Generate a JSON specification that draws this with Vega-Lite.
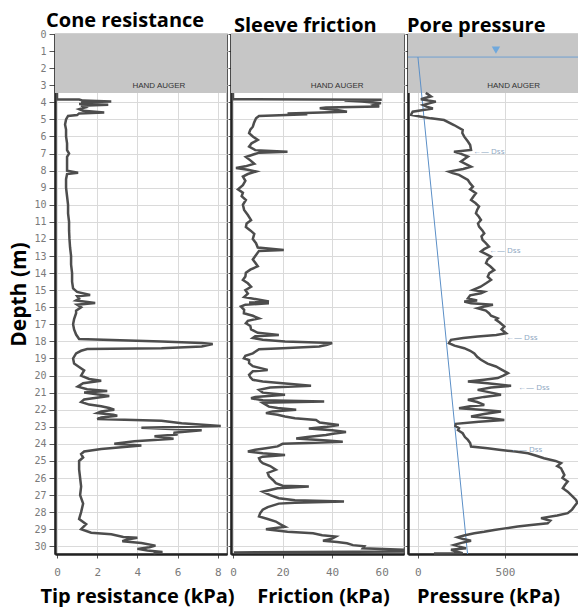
{
  "$schema": "https://vega.github.io/schema/vega-lite/v6.json",
  "padding": {"left": 8, "top": 10, "right": 0, "bottom": 0},
  "bounds": "flush",
  "background": "white",
  "datasets": {
    "auger": [{"top": 0, "bottom": 3.45, "label": "HAND AUGER"}],
    "wt": [{"depth": 1.35, "u": 448}],
    "hydro": [{"d": 1.35, "u0": 0}, {"d": 30.45, "u0": 285}],
    "dss": [
      {"d": 6.9, "u": 316, "label": "←— Dss"},
      {"d": 12.7, "u": 408, "label": "←— Dss"},
      {"d": 17.78, "u": 506, "label": "←— Dss"},
      {"d": 20.73, "u": 575, "label": "←— Dss"},
      {"d": 24.36, "u": 534, "label": "←— Dss"}
    ],
    "qc": [
      {"d": 3.45, "v": 0}, {"d": 3.83, "v": 0}, {"d": 3.84, "v": 1.1}, {"d": 3.9, "v": 1.3}, {"d": 3.95, "v": 2.7}, {"d": 4.0, "v": 1.2}, {"d": 4.05, "v": 1.5}, {"d": 4.1, "v": 1.1}, {"d": 4.15, "v": 2.55}, {"d": 4.2, "v": 1.2}, {"d": 4.3, "v": 1.4}, {"d": 4.4, "v": 1.1}, {"d": 4.5, "v": 1.3}, {"d": 4.6, "v": 2.35}, {"d": 4.65, "v": 1.1}, {"d": 4.75, "v": 1.0}, {"d": 4.8, "v": 0.55}, {"d": 5.0, "v": 0.45}, {"d": 5.3, "v": 0.4}, {"d": 5.6, "v": 0.45}, {"d": 6.0, "v": 0.45}, {"d": 6.4, "v": 0.5}, {"d": 6.8, "v": 0.5}, {"d": 7.0, "v": 0.6}, {"d": 7.2, "v": 0.5}, {"d": 7.6, "v": 0.5}, {"d": 8.0, "v": 0.5}, {"d": 8.12, "v": 1.05}, {"d": 8.2, "v": 0.5}, {"d": 8.5, "v": 0.45}, {"d": 9.0, "v": 0.45}, {"d": 9.5, "v": 0.5}, {"d": 10.0, "v": 0.55}, {"d": 10.5, "v": 0.55}, {"d": 11.0, "v": 0.6}, {"d": 11.5, "v": 0.6}, {"d": 12.0, "v": 0.62}, {"d": 12.5, "v": 0.65}, {"d": 13.0, "v": 0.7}, {"d": 13.5, "v": 0.7}, {"d": 14.0, "v": 0.75}, {"d": 14.5, "v": 0.75}, {"d": 14.9, "v": 0.8}, {"d": 15.1, "v": 1.0}, {"d": 15.28, "v": 1.65}, {"d": 15.35, "v": 1.0}, {"d": 15.5, "v": 1.1}, {"d": 15.6, "v": 0.95}, {"d": 15.75, "v": 1.9}, {"d": 15.85, "v": 1.0}, {"d": 16.0, "v": 1.2}, {"d": 16.2, "v": 0.95}, {"d": 16.35, "v": 0.95}, {"d": 16.7, "v": 0.85}, {"d": 17.0, "v": 0.8}, {"d": 17.3, "v": 0.85}, {"d": 17.6, "v": 0.95}, {"d": 17.86, "v": 1.1}, {"d": 18.0, "v": 5.2}, {"d": 18.1, "v": 7.2}, {"d": 18.15, "v": 7.75}, {"d": 18.3, "v": 7.2}, {"d": 18.4, "v": 5.2}, {"d": 18.45, "v": 1.5}, {"d": 18.55, "v": 1.2}, {"d": 18.7, "v": 0.95}, {"d": 19.0, "v": 0.8}, {"d": 19.3, "v": 0.85}, {"d": 19.5, "v": 1.1}, {"d": 19.7, "v": 1.35}, {"d": 20.0, "v": 1.2}, {"d": 20.2, "v": 1.6}, {"d": 20.3, "v": 2.2}, {"d": 20.45, "v": 1.3}, {"d": 20.65, "v": 1.03}, {"d": 20.8, "v": 1.5}, {"d": 20.9, "v": 2.5}, {"d": 21.0, "v": 1.35}, {"d": 21.2, "v": 2.6}, {"d": 21.4, "v": 1.35}, {"d": 21.55, "v": 1.2}, {"d": 21.7, "v": 1.6}, {"d": 21.8, "v": 2.2}, {"d": 21.9, "v": 2.6}, {"d": 22.0, "v": 2.85}, {"d": 22.1, "v": 2.2}, {"d": 22.2, "v": 2.0}, {"d": 22.3, "v": 2.8}, {"d": 22.35, "v": 3.0}, {"d": 22.45, "v": 2.2}, {"d": 22.55, "v": 2.0}, {"d": 22.65, "v": 5.2}, {"d": 22.8, "v": 6.2}, {"d": 22.95, "v": 8.15}, {"d": 23.05, "v": 4.2}, {"d": 23.2, "v": 7.2}, {"d": 23.35, "v": 5.8}, {"d": 23.45, "v": 6.0}, {"d": 23.55, "v": 4.85}, {"d": 23.7, "v": 5.8}, {"d": 23.85, "v": 3.85}, {"d": 24.0, "v": 2.85}, {"d": 24.1, "v": 4.2}, {"d": 24.3, "v": 2.2}, {"d": 24.45, "v": 1.35}, {"d": 24.6, "v": 1.2}, {"d": 24.8, "v": 1.3}, {"d": 25.0, "v": 1.1}, {"d": 25.5, "v": 1.1}, {"d": 26.0, "v": 1.15}, {"d": 26.5, "v": 1.2}, {"d": 27.0, "v": 1.15}, {"d": 27.5, "v": 1.3}, {"d": 28.0, "v": 1.2}, {"d": 28.4, "v": 1.1}, {"d": 28.7, "v": 1.45}, {"d": 29.0, "v": 1.2}, {"d": 29.2, "v": 1.7}, {"d": 29.3, "v": 2.7}, {"d": 29.45, "v": 3.3}, {"d": 29.5, "v": 4.0}, {"d": 29.6, "v": 3.5}, {"d": 29.7, "v": 3.25}, {"d": 29.8, "v": 4.2}, {"d": 29.96, "v": 4.9}, {"d": 30.05, "v": 4.6}, {"d": 30.15, "v": 4.0}, {"d": 30.25, "v": 4.5}, {"d": 30.33, "v": 5.25}, {"d": 30.4, "v": 4.8}
    ],
    "fs": [
      {"d": 3.45, "v": 0}, {"d": 3.82, "v": 0}, {"d": 3.85, "v": 60}, {"d": 3.9, "v": 45}, {"d": 3.95, "v": 52}, {"d": 4.05, "v": 59.7}, {"d": 4.15, "v": 57}, {"d": 4.25, "v": 59}, {"d": 4.3, "v": 37.5}, {"d": 4.35, "v": 35}, {"d": 4.45, "v": 42}, {"d": 4.55, "v": 46}, {"d": 4.65, "v": 22}, {"d": 4.7, "v": 30}, {"d": 4.8, "v": 10.5}, {"d": 4.93, "v": 9.3}, {"d": 5.2, "v": 8.5}, {"d": 5.43, "v": 8}, {"d": 5.6, "v": 7}, {"d": 5.8, "v": 6.5}, {"d": 6.0, "v": 8}, {"d": 6.2, "v": 10}, {"d": 6.4, "v": 7.5}, {"d": 6.6, "v": 6.5}, {"d": 6.8, "v": 9}, {"d": 6.9, "v": 22}, {"d": 6.95, "v": 10.5}, {"d": 7.2, "v": 5.2}, {"d": 7.4, "v": 7}, {"d": 7.6, "v": 8.6}, {"d": 7.75, "v": 5}, {"d": 7.85, "v": 1.2}, {"d": 7.95, "v": 6}, {"d": 8.05, "v": 9.3}, {"d": 8.2, "v": 6}, {"d": 8.35, "v": 4}, {"d": 8.6, "v": 5}, {"d": 8.85, "v": 4}, {"d": 9.1, "v": 2}, {"d": 9.3, "v": 4}, {"d": 9.5, "v": 3.5}, {"d": 9.72, "v": 5.2}, {"d": 10.0, "v": 4}, {"d": 10.3, "v": 4.5}, {"d": 10.6, "v": 6}, {"d": 10.9, "v": 7.3}, {"d": 11.1, "v": 5.5}, {"d": 11.3, "v": 5.2}, {"d": 11.5, "v": 7}, {"d": 11.7, "v": 8.6}, {"d": 12.0, "v": 8}, {"d": 12.25, "v": 9.3}, {"d": 12.5, "v": 10}, {"d": 12.65, "v": 20.5}, {"d": 12.7, "v": 10.5}, {"d": 13.0, "v": 9}, {"d": 13.2, "v": 8}, {"d": 13.4, "v": 9}, {"d": 13.6, "v": 10}, {"d": 13.8, "v": 7}, {"d": 13.98, "v": 5.2}, {"d": 14.2, "v": 5}, {"d": 14.4, "v": 4}, {"d": 14.6, "v": 6}, {"d": 14.8, "v": 7.3}, {"d": 15.0, "v": 5}, {"d": 15.2, "v": 6}, {"d": 15.4, "v": 4.5}, {"d": 15.67, "v": 14.5}, {"d": 15.72, "v": 6.5}, {"d": 15.77, "v": 14.5}, {"d": 15.85, "v": 5}, {"d": 15.96, "v": 3.2}, {"d": 16.15, "v": 4.5}, {"d": 16.35, "v": 4.4}, {"d": 16.5, "v": 8}, {"d": 16.65, "v": 10.5}, {"d": 16.8, "v": 6}, {"d": 16.94, "v": 5.2}, {"d": 17.1, "v": 7}, {"d": 17.3, "v": 7.3}, {"d": 17.5, "v": 10}, {"d": 17.62, "v": 18.5}, {"d": 17.7, "v": 9}, {"d": 17.8, "v": 8}, {"d": 17.9, "v": 12}, {"d": 18.0, "v": 21}, {"d": 18.1, "v": 40}, {"d": 18.2, "v": 38}, {"d": 18.3, "v": 34.8}, {"d": 18.4, "v": 20}, {"d": 18.46, "v": 10.5}, {"d": 18.7, "v": 8}, {"d": 18.85, "v": 5}, {"d": 18.99, "v": 4.4}, {"d": 19.1, "v": 6.5}, {"d": 19.28, "v": 6.5}, {"d": 19.45, "v": 8}, {"d": 19.67, "v": 14}, {"d": 19.75, "v": 8}, {"d": 19.96, "v": 6.5}, {"d": 20.1, "v": 7}, {"d": 20.25, "v": 8}, {"d": 20.35, "v": 12}, {"d": 20.45, "v": 20}, {"d": 20.6, "v": 31.5}, {"d": 20.7, "v": 15}, {"d": 20.84, "v": 10.5}, {"d": 21.0, "v": 12}, {"d": 21.13, "v": 21}, {"d": 21.25, "v": 9}, {"d": 21.33, "v": 7.3}, {"d": 21.45, "v": 12}, {"d": 21.52, "v": 36.8}, {"d": 21.6, "v": 12}, {"d": 21.82, "v": 14.5}, {"d": 21.9, "v": 18}, {"d": 22.0, "v": 25.5}, {"d": 22.1, "v": 16}, {"d": 22.2, "v": 13.3}, {"d": 22.3, "v": 18}, {"d": 22.4, "v": 21}, {"d": 22.5, "v": 25}, {"d": 22.6, "v": 33.5}, {"d": 22.75, "v": 35}, {"d": 22.9, "v": 42.7}, {"d": 23.0, "v": 38}, {"d": 23.1, "v": 30.6}, {"d": 23.2, "v": 40}, {"d": 23.3, "v": 45.6}, {"d": 23.4, "v": 41}, {"d": 23.48, "v": 37.5}, {"d": 23.6, "v": 30}, {"d": 23.68, "v": 25.5}, {"d": 23.8, "v": 38}, {"d": 23.87, "v": 44.3}, {"d": 23.95, "v": 30}, {"d": 24.0, "v": 20}, {"d": 24.15, "v": 18}, {"d": 24.26, "v": 13.3}, {"d": 24.35, "v": 9}, {"d": 24.45, "v": 6}, {"d": 24.55, "v": 12}, {"d": 24.65, "v": 21}, {"d": 24.75, "v": 12}, {"d": 24.84, "v": 10.5}, {"d": 25.0, "v": 11}, {"d": 25.13, "v": 12}, {"d": 25.3, "v": 15}, {"d": 25.52, "v": 17.3}, {"d": 25.7, "v": 14}, {"d": 25.9, "v": 14.5}, {"d": 26.1, "v": 16}, {"d": 26.3, "v": 17.3}, {"d": 26.45, "v": 20}, {"d": 26.5, "v": 30.6}, {"d": 26.6, "v": 18}, {"d": 26.8, "v": 12}, {"d": 27.0, "v": 15}, {"d": 27.18, "v": 18.5}, {"d": 27.3, "v": 25}, {"d": 27.38, "v": 44.8}, {"d": 27.45, "v": 25}, {"d": 27.5, "v": 18.5}, {"d": 27.7, "v": 14}, {"d": 27.86, "v": 12}, {"d": 28.05, "v": 11}, {"d": 28.25, "v": 10.5}, {"d": 28.4, "v": 14}, {"d": 28.55, "v": 17.3}, {"d": 28.7, "v": 19}, {"d": 28.85, "v": 21}, {"d": 29.0, "v": 13.3}, {"d": 29.15, "v": 22}, {"d": 29.24, "v": 32.3}, {"d": 29.35, "v": 36}, {"d": 29.43, "v": 41.5}, {"d": 29.55, "v": 40}, {"d": 29.67, "v": 36.3}, {"d": 29.75, "v": 42}, {"d": 29.82, "v": 46}, {"d": 29.93, "v": 48.4}, {"d": 30.0, "v": 53}, {"d": 30.12, "v": 52.4}, {"d": 30.2, "v": 68.5}, {"d": 30.3, "v": 68.5}, {"d": 30.36, "v": 0.4}
    ],
    "u2": [
      {"d": 3.45, "v": 45}, {"d": 3.55, "v": 60}, {"d": 3.66, "v": 75}, {"d": 3.75, "v": 40}, {"d": 3.82, "v": 17}, {"d": 3.9, "v": 60}, {"d": 3.96, "v": 103}, {"d": 4.05, "v": 70}, {"d": 4.16, "v": 30}, {"d": 4.25, "v": 50}, {"d": 4.36, "v": 86}, {"d": 4.45, "v": 30}, {"d": 4.55, "v": -30}, {"d": 4.74, "v": -40}, {"d": 4.85, "v": 20}, {"d": 4.94, "v": 75}, {"d": 5.04, "v": 150}, {"d": 5.33, "v": 207}, {"d": 5.62, "v": 257}, {"d": 5.8, "v": 255}, {"d": 6.01, "v": 266}, {"d": 6.3, "v": 287}, {"d": 6.5, "v": 300}, {"d": 6.79, "v": 305}, {"d": 6.89, "v": 207}, {"d": 6.95, "v": 230}, {"d": 7.18, "v": 287}, {"d": 7.47, "v": 247}, {"d": 7.77, "v": 305}, {"d": 7.9, "v": 260}, {"d": 8.06, "v": 178}, {"d": 8.15, "v": 200}, {"d": 8.25, "v": 236}, {"d": 8.55, "v": 287}, {"d": 8.75, "v": 300}, {"d": 8.94, "v": 316}, {"d": 9.1, "v": 300}, {"d": 9.33, "v": 333}, {"d": 9.5, "v": 320}, {"d": 9.72, "v": 305}, {"d": 9.9, "v": 330}, {"d": 10.1, "v": 351}, {"d": 10.3, "v": 340}, {"d": 10.5, "v": 333}, {"d": 10.7, "v": 350}, {"d": 10.89, "v": 362}, {"d": 11.1, "v": 345}, {"d": 11.28, "v": 351}, {"d": 11.5, "v": 370}, {"d": 11.67, "v": 381}, {"d": 11.85, "v": 365}, {"d": 12.06, "v": 371}, {"d": 12.25, "v": 390}, {"d": 12.45, "v": 408}, {"d": 12.6, "v": 380}, {"d": 12.74, "v": 362}, {"d": 12.9, "v": 395}, {"d": 13.04, "v": 420}, {"d": 13.2, "v": 400}, {"d": 13.42, "v": 391}, {"d": 13.6, "v": 415}, {"d": 13.82, "v": 438}, {"d": 14.0, "v": 410}, {"d": 14.21, "v": 401}, {"d": 14.4, "v": 420}, {"d": 14.6, "v": 391}, {"d": 14.8, "v": 360}, {"d": 14.99, "v": 316}, {"d": 15.1, "v": 380}, {"d": 15.18, "v": 362}, {"d": 15.3, "v": 300}, {"d": 15.48, "v": 287}, {"d": 15.6, "v": 340}, {"d": 15.67, "v": 266}, {"d": 15.77, "v": 305}, {"d": 15.86, "v": 431}, {"d": 15.96, "v": 381}, {"d": 16.06, "v": 343}, {"d": 16.2, "v": 390}, {"d": 16.35, "v": 408}, {"d": 16.5, "v": 420}, {"d": 16.65, "v": 458}, {"d": 16.74, "v": 448}, {"d": 16.9, "v": 470}, {"d": 17.13, "v": 496}, {"d": 17.3, "v": 480}, {"d": 17.52, "v": 506}, {"d": 17.62, "v": 450}, {"d": 17.72, "v": 343}, {"d": 17.8, "v": 260}, {"d": 17.91, "v": 190}, {"d": 18.1, "v": 178}, {"d": 18.25, "v": 210}, {"d": 18.4, "v": 266}, {"d": 18.55, "v": 300}, {"d": 18.7, "v": 324}, {"d": 18.9, "v": 340}, {"d": 19.08, "v": 362}, {"d": 19.3, "v": 400}, {"d": 19.47, "v": 448}, {"d": 19.65, "v": 480}, {"d": 19.86, "v": 517}, {"d": 20.0, "v": 490}, {"d": 20.15, "v": 458}, {"d": 20.25, "v": 380}, {"d": 20.35, "v": 287}, {"d": 20.45, "v": 400}, {"d": 20.6, "v": 535}, {"d": 20.7, "v": 420}, {"d": 20.84, "v": 343}, {"d": 21.0, "v": 420}, {"d": 21.13, "v": 477}, {"d": 21.25, "v": 380}, {"d": 21.42, "v": 287}, {"d": 21.55, "v": 340}, {"d": 21.72, "v": 381}, {"d": 21.8, "v": 300}, {"d": 21.91, "v": 236}, {"d": 22.0, "v": 360}, {"d": 22.1, "v": 477}, {"d": 22.25, "v": 380}, {"d": 22.4, "v": 305}, {"d": 22.5, "v": 420}, {"d": 22.6, "v": 496}, {"d": 22.7, "v": 350}, {"d": 22.83, "v": 218}, {"d": 22.95, "v": 215}, {"d": 23.08, "v": 236}, {"d": 23.2, "v": 230}, {"d": 23.38, "v": 257}, {"d": 23.6, "v": 270}, {"d": 23.77, "v": 287}, {"d": 23.95, "v": 300}, {"d": 24.16, "v": 305}, {"d": 24.26, "v": 400}, {"d": 24.36, "v": 477}, {"d": 24.45, "v": 560}, {"d": 24.55, "v": 632}, {"d": 24.7, "v": 680}, {"d": 24.84, "v": 724}, {"d": 25.0, "v": 790}, {"d": 25.13, "v": 822}, {"d": 25.3, "v": 800}, {"d": 25.43, "v": 822}, {"d": 25.6, "v": 830}, {"d": 25.82, "v": 841}, {"d": 26.0, "v": 830}, {"d": 26.21, "v": 860}, {"d": 26.4, "v": 845}, {"d": 26.6, "v": 832}, {"d": 26.8, "v": 860}, {"d": 26.99, "v": 879}, {"d": 27.15, "v": 895}, {"d": 27.28, "v": 908}, {"d": 27.45, "v": 915}, {"d": 27.67, "v": 898}, {"d": 27.85, "v": 885}, {"d": 28.06, "v": 860}, {"d": 28.2, "v": 800}, {"d": 28.35, "v": 707}, {"d": 28.5, "v": 760}, {"d": 28.65, "v": 745}, {"d": 28.75, "v": 650}, {"d": 28.84, "v": 573}, {"d": 28.95, "v": 500}, {"d": 29.04, "v": 438}, {"d": 29.15, "v": 380}, {"d": 29.23, "v": 324}, {"d": 29.35, "v": 270}, {"d": 29.47, "v": 228}, {"d": 29.57, "v": 260}, {"d": 29.67, "v": 305}, {"d": 29.8, "v": 250}, {"d": 29.92, "v": 207}, {"d": 30.02, "v": 240}, {"d": 30.12, "v": 276}, {"d": 30.2, "v": 190}, {"d": 30.3, "v": 220}, {"d": 30.4, "v": 257}, {"d": 30.42, "v": 92}
    ]
  },
  "hconcat": [
    {
      "width": 172,
      "height": 520,
      "title": {"text": "Cone resistance", "dx": -9},
      "layer": [
        {
          "data": {"name": "auger"},
          "mark": {"type": "rect", "color": "#c6c6c6"},
          "encoding": {
            "y": {"field": "top", "type": "quantitative", "scale": {"domain": [0, 30.45], "reverse": true, "nice": false, "zero": false},
              "axis": {"values": [0,1,2,3,4,5,6,7,8,9,10,11,12,13,14,15,16,17,18,19,20,21,22,23,24,25,26,27,28,29,30], "title": "Depth (m)", "titleFontSize": 21, "tickSize": 6, "labelPadding": 3, "titlePadding": 4, "labelOverlap": false, "labelFontSize": 10}},
            "y2": {"field": "bottom"}
          }
        },
        {
          "data": {"name": "auger"},
          "mark": {"type": "text", "fontSize": 8, "color": "#333", "font": "Liberation Sans", "baseline": "bottom", "dy": -3},
          "encoding": {
            "x": {"datum": 5.07, "type": "quantitative"},
            "y": {"field": "bottom", "type": "quantitative", "axis": {"values": [0,1,2,3,4,5,6,7,8,9,10,11,12,13,14,15,16,17,18,19,20,21,22,23,24,25,26,27,28,29,30], "title": "Depth (m)", "titleFontSize": 21, "tickSize": 6, "labelPadding": 3, "titlePadding": 4, "labelOverlap": false, "labelFontSize": 10}},
            "text": {"field": "label"}
          }
        },
        {
          "data": {"name": "qc"},
          "mark": {"type": "line", "color": "#4d4d4d", "strokeWidth": 2.5},
          "encoding": {
            "x": {"field": "v", "type": "quantitative", "scale": {"domain": [-0.1, 8.46], "nice": false, "zero": false},
              "axis": {"values": [0, 2, 4, 6, 8], "title": "Tip resistance (kPa)", "titleX": 82}},
            "y": {"field": "d", "type": "quantitative", "scale": {"domain": [0, 30.45], "reverse": true, "nice": false, "zero": false},
              "axis": {"values": [0,1,2,3,4,5,6,7,8,9,10,11,12,13,14,15,16,17,18,19,20,21,22,23,24,25,26,27,28,29,30], "title": "Depth (m)", "titleFontSize": 21, "tickSize": 6, "labelPadding": 3, "titlePadding": 4, "labelOverlap": false, "labelFontSize": 10}},
            "order": {"field": "d", "type": "quantitative"}
          }
        }
      ]
    },
    {
      "width": 173,
      "height": 520,
      "title": {"text": "Sleeve friction", "dx": 3},
      "layer": [
        {
          "data": {"name": "auger"},
          "mark": {"type": "rect", "color": "#c6c6c6"},
          "encoding": {
            "y": {"field": "top", "type": "quantitative", "scale": {"domain": [0, 30.45], "reverse": true, "nice": false, "zero": false},
              "axis": {"values": [0,1,2,3,4,5,6,7,8,9,10,11,12,13,14,15,16,17,18,19,20,21,22,23,24,25,26,27,28,29,30], "title": null, "labels": false, "tickSize": 3}},
            "y2": {"field": "bottom"}
          }
        },
        {
          "data": {"name": "auger"},
          "mark": {"type": "text", "fontSize": 8, "color": "#333", "font": "Liberation Sans", "baseline": "bottom", "dy": -3},
          "encoding": {
            "x": {"datum": 42, "type": "quantitative"},
            "y": {"field": "bottom", "type": "quantitative", "axis": {"values": [0,1,2,3,4,5,6,7,8,9,10,11,12,13,14,15,16,17,18,19,20,21,22,23,24,25,26,27,28,29,30], "title": null, "labels": false, "tickSize": 3}},
            "text": {"field": "label"}
          }
        },
        {
          "data": {"name": "fs"},
          "mark": {"type": "line", "color": "#4d4d4d", "strokeWidth": 2.5},
          "encoding": {
            "x": {"field": "v", "type": "quantitative", "scale": {"domain": [-0.8, 69], "nice": false, "zero": false},
              "axis": {"values": [0, 20, 40, 60], "title": "Friction (kPa)", "titleX": 92}},
            "y": {"field": "d", "type": "quantitative", "scale": {"domain": [0, 30.45], "reverse": true, "nice": false, "zero": false},
              "axis": {"values": [0,1,2,3,4,5,6,7,8,9,10,11,12,13,14,15,16,17,18,19,20,21,22,23,24,25,26,27,28,29,30], "title": null, "labels": false, "tickSize": 3}},
            "order": {"field": "d", "type": "quantitative"}
          }
        }
      ]
    },
    {
      "width": 171,
      "height": 520,
      "title": {"text": "Pore pressure", "dx": -1},
      "layer": [
        {
          "data": {"name": "auger"},
          "mark": {"type": "rect", "color": "#c6c6c6"},
          "encoding": {
            "y": {"field": "top", "type": "quantitative", "scale": {"domain": [0, 30.45], "reverse": true, "nice": false, "zero": false},
              "axis": {"values": [0,1,2,3,4,5,6,7,8,9,10,11,12,13,14,15,16,17,18,19,20,21,22,23,24,25,26,27,28,29,30], "title": null, "labels": false, "tickSize": 3}},
            "y2": {"field": "bottom"}
          }
        },
        {
          "data": {"name": "auger"},
          "mark": {"type": "text", "fontSize": 8, "color": "#333", "font": "Liberation Sans", "baseline": "bottom", "dy": -3},
          "encoding": {
            "x": {"datum": 550, "type": "quantitative"},
            "y": {"field": "bottom", "type": "quantitative", "axis": {"values": [0,1,2,3,4,5,6,7,8,9,10,11,12,13,14,15,16,17,18,19,20,21,22,23,24,25,26,27,28,29,30], "title": null, "labels": false, "tickSize": 3}},
            "text": {"field": "label"}
          }
        },
        {
          "data": {"name": "wt"},
          "mark": {"type": "rule", "color": "#6f9fd0", "strokeWidth": 1},
          "encoding": {
            "y": {"field": "depth", "type": "quantitative", "axis": {"values": [0,1,2,3,4,5,6,7,8,9,10,11,12,13,14,15,16,17,18,19,20,21,22,23,24,25,26,27,28,29,30], "title": null, "labels": false, "tickSize": 3}}
          }
        },
        {
          "data": {"name": "wt"},
          "mark": {"type": "point", "shape": "triangle-down", "filled": true, "color": "#6fa8dc", "size": 70, "opacity": 1, "yOffset": -7},
          "encoding": {
            "x": {"field": "u", "type": "quantitative"},
            "y": {"field": "depth", "type": "quantitative", "axis": {"values": [0,1,2,3,4,5,6,7,8,9,10,11,12,13,14,15,16,17,18,19,20,21,22,23,24,25,26,27,28,29,30], "title": null, "labels": false, "tickSize": 3}}
          }
        },
        {
          "data": {"name": "hydro"},
          "mark": {"type": "line", "color": "#5b8fc7", "strokeWidth": 1},
          "encoding": {
            "x": {"field": "u0", "type": "quantitative"},
            "y": {"field": "d", "type": "quantitative", "axis": {"values": [0,1,2,3,4,5,6,7,8,9,10,11,12,13,14,15,16,17,18,19,20,21,22,23,24,25,26,27,28,29,30], "title": null, "labels": false, "tickSize": 3}},
            "order": {"field": "d", "type": "quantitative"}
          }
        },
        {
          "data": {"name": "u2"},
          "mark": {"type": "line", "color": "#4d4d4d", "strokeWidth": 2.5},
          "encoding": {
            "x": {"field": "v", "type": "quantitative", "scale": {"domain": [-57, 925], "nice": false, "zero": false},
              "axis": {"values": [0, 500], "title": "Pressure (kPa)", "titleX": 80}},
            "y": {"field": "d", "type": "quantitative", "scale": {"domain": [0, 30.45], "reverse": true, "nice": false, "zero": false},
              "axis": {"values": [0,1,2,3,4,5,6,7,8,9,10,11,12,13,14,15,16,17,18,19,20,21,22,23,24,25,26,27,28,29,30], "title": null, "labels": false, "tickSize": 3}},
            "order": {"field": "d", "type": "quantitative"}
          }
        },
        {
          "data": {"name": "dss"},
          "mark": {"type": "text", "fontSize": 8, "color": "#8ea6bf", "align": "left", "baseline": "middle"},
          "encoding": {
            "x": {"field": "u", "type": "quantitative"},
            "y": {"field": "d", "type": "quantitative", "axis": {"values": [0,1,2,3,4,5,6,7,8,9,10,11,12,13,14,15,16,17,18,19,20,21,22,23,24,25,26,27,28,29,30], "title": null, "labels": false, "tickSize": 3}},
            "text": {"field": "label"}
          }
        }
      ]
    }
  ],
  "config": {
    "font": "Open Sans",
    "concat": {"spacing": 4},
    "view": {"stroke": "#444", "strokeWidth": 1.2},
    "axis": {
      "labelFont": "DejaVu Sans Mono",
      "labelFontSize": 11,
      "labelColor": "#7a7a7a",
      "labelOverlap": false,
      "gridColor": "#dadada",
      "gridWidth": 1,
      "grid": true,
      "domainColor": "#222",
      "domainWidth": 2.5,
      "tickColor": "#555",
      "tickSize": 4,
      "labelPadding": 8,
      "titleFont": "Open Sans",
      "titleFontWeight": "bold",
      "titleFontSize": 20,
      "titleColor": "#000",
      "titlePadding": 9
    },
    "title": {"font": "Open Sans", "fontSize": 20, "fontWeight": "bold", "color": "#000", "anchor": "start", "frame": "group", "offset": -2}
  }
}
